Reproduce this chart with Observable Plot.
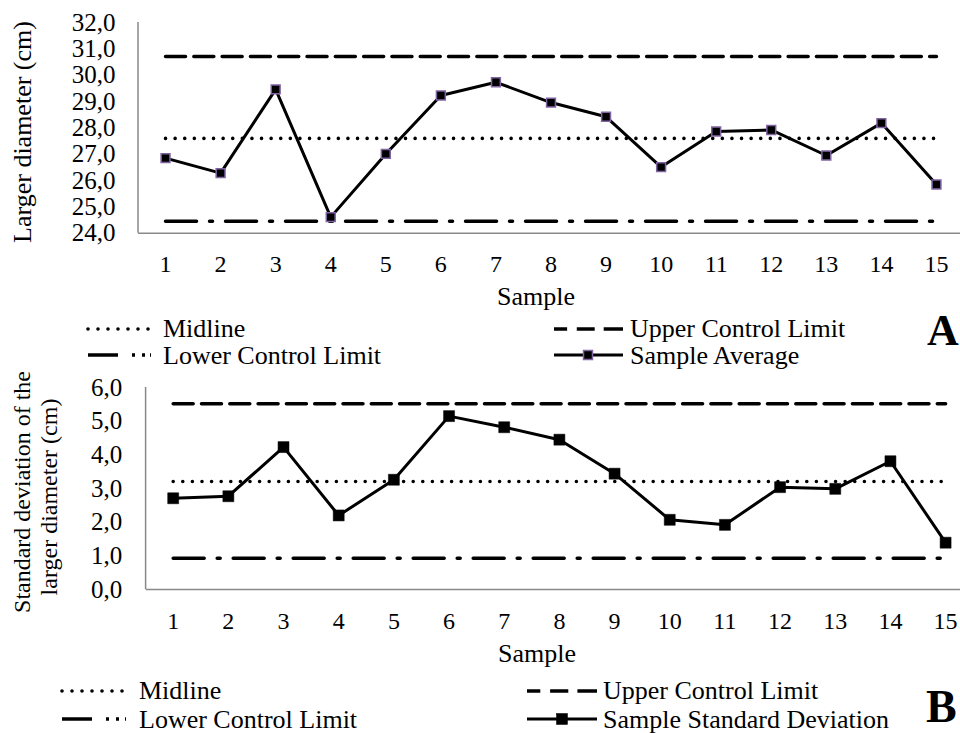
<!DOCTYPE html>
<html>
<head>
<meta charset="utf-8">
<script src="https://cdn.jsdelivr.net/npm/d3@7"></script>
<script src="https://cdn.jsdelivr.net/npm/@observablehq/plot@0.6"></script>
<style>
  body { margin: 0; background: #fff; }
  #wrap { position: relative; width: 960px; height: 733px; overflow: hidden; background: #fff;
          font-family: "Liberation Serif", "Times New Roman", serif; }
  #wrap svg { position: absolute; left: 0; }
</style>
</head>
<body>
<div id="wrap"></div>
<script>
// ---------- data ----------
const samples = [1, 2, 3, 4, 5, 6, 7, 8, 9, 10, 11, 12, 13, 14, 15];

// Chart A: sample average of the larger diameter (cm)
const sampleAverage = [26.85, 26.28, 29.46, 24.61, 27.01, 29.23, 29.73, 28.96, 28.42, 26.51, 27.86, 27.92, 26.95, 28.18, 25.85];
const avgUCL = 30.71;
const avgMid = 27.60;
const avgLCL = 24.45;
const yTicksA = [24, 25, 26, 27, 28, 29, 30, 31, 32];

// Chart B: sample standard deviation of the larger diameter (cm)
const sampleSD = [2.71, 2.77, 4.23, 2.20, 3.26, 5.15, 4.82, 4.45, 3.44, 2.07, 1.92, 3.04, 2.99, 3.81, 1.39];
const sdUCL = 5.52;
const sdMid = 3.21;
const sdLCL = 0.93;
const yTicksB = [0, 1, 2, 3, 4, 5, 6];

const legendA = ["Midline", "Upper Control Limit", "Lower Control Limit", "Sample Average"];
const legendB = ["Midline", "Upper Control Limit", "Lower Control Limit", "Sample Standard Deviation"];

// ---------- styles ----------
const FONT = '"Liberation Serif", "Times New Roman", serif';
const AXIS_GRAY = "#898989";
const DASH_UCL = "20 8.3";
const DASH_LCL = "31 13 3 13";
const DASH_MID = "0 9.6";
const fmt = d => d.toFixed(1).replace(".", ",");

function chart(o) {
  const rows = samples.map((s, i) => ({sample: s, value: o.values[i], ucl: o.ucl, mid: o.mid, lcl: o.lcl}));
  const [y0, y1] = o.yDomain;
  return Plot.plot({
    width: 960,
    height: o.height,
    marginTop: o.marginTop,
    marginBottom: o.marginBottom,
    marginLeft: o.marginLeft,
    marginRight: 0,
    style: {fontFamily: FONT, fontSize: "24px", color: "#000", background: "transparent", overflow: "visible"},
    x: {type: "linear", domain: [0.5, 15.5], range: o.xRange},
    y: {domain: o.yDomain},
    marks: [
      Plot.ruleY([y0], {stroke: AXIS_GRAY, strokeWidth: 1.5}),
      Plot.ruleX([0.5], {y1: y0, y2: y1, stroke: AXIS_GRAY, strokeWidth: 1.5}),
      Plot.axisX({ticks: samples, tickSize: 0, tickPadding: o.padX, tickFormat: d => String(d),
                  label: null, fontSize: 24, fontFamily: FONT}),
      Plot.axisY({ticks: o.yTicks, tickSize: 0, tickPadding: o.padY, tickFormat: fmt,
                  label: null, fontSize: o.yFont, fontFamily: FONT}),
      Plot.lineY(rows, {x: "sample", y: "ucl", stroke: "#000", strokeWidth: 3.5, strokeDasharray: DASH_UCL}),
      Plot.lineY(rows, {x: "sample", y: "lcl", stroke: "#000", strokeWidth: 3.5, strokeDasharray: DASH_LCL}),
      Plot.lineY(rows, {x: "sample", y: "mid", stroke: "#000", strokeWidth: 3.6, strokeDasharray: DASH_MID, strokeLinecap: "round"}),
      Plot.lineY(rows, {x: "sample", y: "value", stroke: "#000", strokeWidth: 3}),
      Plot.dot(rows, {x: "sample", y: "value", symbol: "square", r: o.r, fill: "#000",
                      stroke: o.markerStroke, strokeWidth: o.markerStrokeWidth})
    ]
  });
}

const wrap = document.getElementById("wrap");

const chartA = chart({
  values: sampleAverage, ucl: avgUCL, mid: avgMid, lcl: avgLCL,
  yDomain: [24, 32], yTicks: yTicksA,
  height: 310, marginTop: 22, marginBottom: 77.3, marginLeft: 138,
  xRange: [137.5, 963.5], padX: 21.5, padY: 23, yFont: 25,
  r: 5, markerStroke: "#8064a2", markerStrokeWidth: 1.5
});
chartA.style.top = "0px";
wrap.appendChild(chartA);

const chartB = chart({
  values: sampleSD, ucl: sdUCL, mid: sdMid, lcl: sdLCL,
  yDomain: [0, 6], yTicks: yTicksB,
  height: 260, marginTop: 17, marginBottom: 41, marginLeft: 145.7,
  xRange: [145.1, 972.7], padX: 22, padY: 24, yFont: 25,
  r: 6.2, markerStroke: "#000", markerStrokeWidth: 0.5
});
chartB.style.top = "370px";
wrap.appendChild(chartB);

// ---------- titles, legends, panel letters ----------
const svg = d3.select(wrap).append("svg")
  .attr("width", 960).attr("height", 733)
  .style("top", "0px")
  .style("pointer-events", "none")
  .attr("font-family", FONT)
  .attr("fill", "#000");

function text(x, y, s, size, opts = {}) {
  const t = svg.append("text").attr("x", x).attr("y", y).attr("font-size", size).text(s);
  if (opts.anchor) t.attr("text-anchor", opts.anchor);
  if (opts.weight) t.attr("font-weight", opts.weight);
  if (opts.rotate) t.attr("transform", `rotate(${opts.rotate},${x},${y})`);
  return t;
}
function seg(x1, x2, y, w, dash, cap) {
  const l = svg.append("line").attr("x1", x1).attr("x2", x2).attr("y1", y).attr("y2", y)
    .attr("stroke", "#000").attr("stroke-width", w);
  if (dash) l.attr("stroke-dasharray", dash);
  if (cap) l.attr("stroke-linecap", cap);
  return l;
}
function square(cx, cy, side, stroke, sw) {
  svg.append("rect").attr("x", cx - side / 2).attr("y", cy - side / 2)
    .attr("width", side).attr("height", side).attr("fill", "#000")
    .attr("stroke", stroke).attr("stroke-width", sw);
}

// axis titles
text(31, 132, "Larger diameter (cm)", 26, {anchor: "middle", rotate: -90});
text(536, 305, "Sample", 26, {anchor: "middle"});
text(30, 492, "Standard deviation of the", 24, {anchor: "middle", rotate: -90});
text(57, 497, "larger diameter (cm)", 24, {anchor: "middle", rotate: -90});
text(537, 662, "Sample", 26, {anchor: "middle"});

function legend(labels, L, R, rowY, marker) {
  const [y1, y2] = rowY;
  // midline (dotted)
  seg(L.x0, L.x1, y1 - 8, 3.6, "0 10", "round");
  text(L.tx, y1, labels[0], 26);
  // lower control limit
  seg(L.x0, L.x0 + 30, y2 - 9, 3.5);
  seg(L.x0 + 44, L.x0 + 47, y2 - 9, 3.5);
  seg(L.x0 + 54, L.x0 + 57, y2 - 9, 3.5);
  seg(L.x0 + 63, L.x1, y2 - 9, 3.5);
  text(L.tx, y2, labels[2], 26);
  // upper control limit
  const w = R.x1 - R.x0;
  seg(R.x0, R.x0 + w * 0.19, y1 - 8, 3.5);
  seg(R.x0 + w * 0.33, R.x0 + w * 0.59, y1 - 8, 3.5);
  seg(R.x0 + w * 0.72, R.x1, y1 - 8, 3.5);
  text(R.tx, y1, labels[1], 26);
  // sample series
  seg(R.x0, R.x1, y2 - 9, 3);
  square(R.mx, y2 - 9, marker.side, marker.stroke, marker.sw);
  text(R.tx, y2, labels[3], 26);
}

legend(legendA,
  {x0: 88, x1: 150, tx: 163},
  {x0: 554, x1: 623, tx: 630, mx: 588},
  [337, 364],
  {side: 9, stroke: "#8064a2", sw: 1.5});

legend(legendB,
  {x0: 62, x1: 126, tx: 139},
  {x0: 527, x1: 597, tx: 603, mx: 562},
  [699, 728],
  {side: 11, stroke: "#000", sw: 0.5});

// panel letters (kept near the right edge as in the reference, but inside the page)
text(927, 345, "A", 44, {weight: "bold"});
text(926, 722, "B", 46, {weight: "bold"});
</script>
</body>
</html>
